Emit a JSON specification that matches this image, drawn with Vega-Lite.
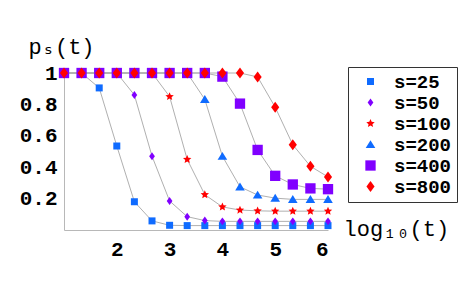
{
  "$schema": "https://vega.github.io/schema/vega-lite/v6.json",
  "autosize": {"type": "none"},
  "width": 264,
  "height": 157,
  "padding": {"left": 64, "top": 73, "right": 143, "bottom": 61},
  "background": "white",
  "config": {
    "view": {"stroke": null},
    "font": "'Liberation Mono', monospace",
    "axis": {
      "grid": false,
      "ticks": false,
      "domainColor": "#b8b8b8",
      "domainWidth": 1,
      "labelFont": "'Liberation Mono', monospace",
      "labelFontWeight": "bold",
      "labelFontSize": 21,
      "labelColor": "black",
      "titleFont": "'Liberation Mono', 'DejaVu Sans Mono', monospace",
      "titleFontWeight": "normal",
      "titleFontSize": 22,
      "titleColor": "black"
    },
    "legend": {
      "orient": "none",
      "legendX": 284,
      "legendY": -6,
      "padding": 5,
      "rowPadding": 1,
      "symbolOffset": 8,
      "labelOffset": 14,
      "labelFont": "'Liberation Mono', monospace",
      "labelFontWeight": "bold",
      "labelFontSize": 19,
      "labelColor": "black"
    }
  },
  "data": {
    "values": [
      {"s": "s=25", "x": 1, "p": 1}, {"s": "s=25", "x": 1.333, "p": 1}, {"s": "s=25", "x": 1.667, "p": 0.905}, {"s": "s=25", "x": 2, "p": 0.535},
      {"s": "s=25", "x": 2.333, "p": 0.18}, {"s": "s=25", "x": 2.667, "p": 0.058}, {"s": "s=25", "x": 3, "p": 0.03}, {"s": "s=25", "x": 3.333, "p": 0.028},
      {"s": "s=25", "x": 3.667, "p": 0.028}, {"s": "s=25", "x": 4, "p": 0.028}, {"s": "s=25", "x": 4.333, "p": 0.028}, {"s": "s=25", "x": 4.667, "p": 0.028},
      {"s": "s=25", "x": 5, "p": 0.028}, {"s": "s=25", "x": 5.333, "p": 0.028}, {"s": "s=25", "x": 5.667, "p": 0.028}, {"s": "s=25", "x": 6, "p": 0.028},

      {"s": "s=50", "x": 1, "p": 1}, {"s": "s=50", "x": 1.333, "p": 1}, {"s": "s=50", "x": 1.667, "p": 1}, {"s": "s=50", "x": 2, "p": 1},
      {"s": "s=50", "x": 2.333, "p": 0.86}, {"s": "s=50", "x": 2.667, "p": 0.47}, {"s": "s=50", "x": 3, "p": 0.185}, {"s": "s=50", "x": 3.333, "p": 0.085},
      {"s": "s=50", "x": 3.667, "p": 0.06}, {"s": "s=50", "x": 4, "p": 0.055}, {"s": "s=50", "x": 4.333, "p": 0.055}, {"s": "s=50", "x": 4.667, "p": 0.055},
      {"s": "s=50", "x": 5, "p": 0.055}, {"s": "s=50", "x": 5.333, "p": 0.055}, {"s": "s=50", "x": 5.667, "p": 0.055}, {"s": "s=50", "x": 6, "p": 0.055},

      {"s": "s=100", "x": 1, "p": 1}, {"s": "s=100", "x": 1.333, "p": 1}, {"s": "s=100", "x": 1.667, "p": 1}, {"s": "s=100", "x": 2, "p": 1},
      {"s": "s=100", "x": 2.333, "p": 1}, {"s": "s=100", "x": 2.667, "p": 1}, {"s": "s=100", "x": 3, "p": 0.85}, {"s": "s=100", "x": 3.333, "p": 0.45},
      {"s": "s=100", "x": 3.667, "p": 0.225}, {"s": "s=100", "x": 4, "p": 0.147}, {"s": "s=100", "x": 4.333, "p": 0.127}, {"s": "s=100", "x": 4.667, "p": 0.122},
      {"s": "s=100", "x": 5, "p": 0.12}, {"s": "s=100", "x": 5.333, "p": 0.12}, {"s": "s=100", "x": 5.667, "p": 0.12}, {"s": "s=100", "x": 6, "p": 0.12},

      {"s": "s=200", "x": 1, "p": 1}, {"s": "s=200", "x": 1.333, "p": 1}, {"s": "s=200", "x": 1.667, "p": 1}, {"s": "s=200", "x": 2, "p": 1},
      {"s": "s=200", "x": 2.333, "p": 1}, {"s": "s=200", "x": 2.667, "p": 1}, {"s": "s=200", "x": 3, "p": 1}, {"s": "s=200", "x": 3.333, "p": 1},
      {"s": "s=200", "x": 3.667, "p": 0.832}, {"s": "s=200", "x": 4, "p": 0.47}, {"s": "s=200", "x": 4.333, "p": 0.275}, {"s": "s=200", "x": 4.667, "p": 0.223},
      {"s": "s=200", "x": 5, "p": 0.203}, {"s": "s=200", "x": 5.333, "p": 0.195}, {"s": "s=200", "x": 5.667, "p": 0.195}, {"s": "s=200", "x": 6, "p": 0.195},

      {"s": "s=400", "x": 1, "p": 1}, {"s": "s=400", "x": 1.333, "p": 1}, {"s": "s=400", "x": 1.667, "p": 1}, {"s": "s=400", "x": 2, "p": 1},
      {"s": "s=400", "x": 2.333, "p": 1}, {"s": "s=400", "x": 2.667, "p": 1}, {"s": "s=400", "x": 3, "p": 1}, {"s": "s=400", "x": 3.333, "p": 1},
      {"s": "s=400", "x": 3.667, "p": 1}, {"s": "s=400", "x": 4, "p": 0.977}, {"s": "s=400", "x": 4.333, "p": 0.805}, {"s": "s=400", "x": 4.667, "p": 0.51},
      {"s": "s=400", "x": 5, "p": 0.345}, {"s": "s=400", "x": 5.333, "p": 0.29}, {"s": "s=400", "x": 5.667, "p": 0.265}, {"s": "s=400", "x": 6, "p": 0.26},

      {"s": "s=800", "x": 1, "p": 1}, {"s": "s=800", "x": 1.333, "p": 1}, {"s": "s=800", "x": 1.667, "p": 1}, {"s": "s=800", "x": 2, "p": 1},
      {"s": "s=800", "x": 2.333, "p": 1}, {"s": "s=800", "x": 2.667, "p": 1}, {"s": "s=800", "x": 3, "p": 1}, {"s": "s=800", "x": 3.333, "p": 1},
      {"s": "s=800", "x": 3.667, "p": 1}, {"s": "s=800", "x": 4, "p": 1}, {"s": "s=800", "x": 4.333, "p": 1}, {"s": "s=800", "x": 4.667, "p": 0.975},
      {"s": "s=800", "x": 5, "p": 0.782}, {"s": "s=800", "x": 5.333, "p": 0.543}, {"s": "s=800", "x": 5.667, "p": 0.406}, {"s": "s=800", "x": 6, "p": 0.338}
    ]
  },
  "encoding": {
    "x": {
      "field": "x", "type": "quantitative",
      "scale": {"domain": [1, 6], "nice": false, "zero": false},
      "axis": {
        "values": [2, 3, 4, 5, 6], "format": "d",
        "labelBaseline": "alphabetic", "labelPadding": 25,
        "title": "log₁₀(t)", "titleX": 279, "titleY": 5,
        "titleAlign": "left", "titleBaseline": "alphabetic", "titleAngle": 0
      }
    },
    "y": {
      "field": "p", "type": "quantitative",
      "scale": {"domain": [0, 1], "nice": false},
      "axis": {
        "values": [0.2, 0.4, 0.6, 0.8, 1],
        "labelExpr": "datum.value > 0.99 ? '1' : format(datum.value, '.1f')",
        "labelPadding": 7,
        "title": "pₛ(t)", "titleX": -36, "titleY": -20,
        "titleAlign": "left", "titleBaseline": "alphabetic", "titleAngle": 0
      }
    }
  },
  "layer": [
    {
      "mark": {"type": "line", "color": "#b0b0b0", "strokeWidth": 1},
      "encoding": {"detail": {"field": "s", "type": "nominal"}}
    },
    {
      "mark": {"type": "point", "filled": true, "opacity": 1},
      "encoding": {
        "color": {
          "field": "s", "type": "nominal",
          "scale": {
            "domain": ["s=25", "s=50", "s=100", "s=200", "s=400", "s=800"],
            "range": ["#0f6bff", "#8000ff", "#ff0000", "#0f6bff", "#8000ff", "#ff0000"]
          },
          "legend": {"title": null, "strokeColor": "#333333"}
        },
        "shape": {
          "field": "s", "type": "nominal",
          "scale": {
            "domain": ["s=25", "s=50", "s=100", "s=200", "s=400", "s=800"],
            "range": [
              "M-1,-1H1V1H-1Z",
              "M0,-1L0.72,0L0,1L-0.72,0Z",
              "M0,-1L0.27,-0.37L0.951,-0.309L0.44,0.143L0.588,0.809L0,0.46L-0.588,0.809L-0.44,0.143L-0.951,-0.309L-0.27,-0.37Z",
              "M0,-0.9L1,0.75L-1,0.75Z",
              "M-1,-1H1V1H-1Z",
              "M0,-1L0.74,0L0,1L-0.74,0Z"
            ]
          },
          "legend": {"title": null, "strokeColor": "#333333"}
        },
        "size": {
          "field": "s", "type": "nominal",
          "scale": {
            "domain": ["s=25", "s=50", "s=100", "s=200", "s=400", "s=800"],
            "range": [49, 121, 196, 144, 121, 300]
          },
          "legend": {"title": null, "strokeColor": "#333333"}
        }
      }
    }
  ]
}
